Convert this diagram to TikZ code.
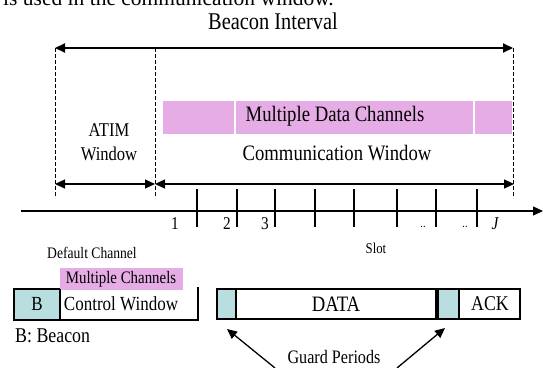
\documentclass[tikz,border=0pt]{standalone}
\usepackage{fontspec}
\setmainfont{Liberation Serif}
\usetikzlibrary{arrows.meta}
\definecolor{pinkband}{RGB}{230,172,230}
\definecolor{guardblue}{RGB}{184,222,224}
\newcommand{\fsz}[1]{\fontsize{#1}{#1}\selectfont}
\begin{document}
\begin{tikzpicture}[x=1pt,y=-1pt,
  txt/.style={inner sep=0pt, xscale=0.85},
  dblarrow/.style={{Triangle[length=10pt,width=9pt]}-{Triangle[length=10pt,width=9pt]}},
  onearrow/.style={-{Triangle[length=10pt,width=9pt]}},
  dashline/.style={dash pattern=on 4pt off 2pt, line width=1pt},
  tickthick/.style={line width=2.2pt},
  tickthin/.style={line width=1.1pt},
  boxline/.style={line width=2.4pt},
]
\useasboundingbox (0,0) rectangle (543,367);

% clipped caption line from the page
\node[inner sep=0pt, anchor=base west] (cap) at (3,5.5) {\fsz{21.5}is used in the communication window.};

% Beacon interval
\node[txt] (bi) at (273,21) {\fsz{24}Beacon Interval};
\coordinate (bil) at (55,48);
\coordinate (bir) at (513,48);
\coordinate (bim) at (155,48);
\draw[dblarrow, line width=2pt] (bil) -- (bir);

% pink band
\fill[pinkband] (163,101) rectangle (512,134);
\draw[white, line width=1.2pt] (235,101) -- (235,134);
\draw[white, line width=1.2pt] (474,101) -- (474,134);
\node[txt] (mdc) at (335,116) {\fsz{22}Multiple Data Channels};
\node[txt] (cw) at (337,153) {\fsz{22}Communication Window};
\node[txt] (atim) at (109,130) {\fsz{19.5}ATIM};
\node[txt] (win) at (109,154) {\fsz{19.5}Window};

% dashed verticals
\coordinate (dl) at (55,198);
\coordinate (dm) at (155,198);
\coordinate (dr) at (513,198);
\draw[dashline] (bil) -- (dl);
\draw[dashline] (bim) -- (dm);
\draw[dashline] (bir) -- (dr);

% window arrows
\coordinate (al) at (55,184);
\coordinate (am) at (155,184);
\coordinate (ar) at (514,184);
\draw[dblarrow, line width=1.3pt] (al) -- (am);
\draw[dblarrow, line width=1.3pt] (am) -- (ar);

% time axis
\coordinate (ax0) at (21,211);
\coordinate (ax1) at (543,211);
\draw[onearrow, line width=1.3pt] (ax0) -- (ax1);
\foreach \x in {197,315,354,397,436,477}
  \draw[tickthick] (\x,189) -- (\x,227);
\foreach \x in {237,275}
  \draw[tickthin] (\x,189) -- (\x,227);
\node[txt] (s1) at (175,224) {\fsz{18}1};
\node[txt] (s2) at (227,224) {\fsz{18}2};
\node[txt] (s3) at (265,224) {\fsz{18}3};
\node[txt] (d1) at (423,227) {\fsz{12}..};
\node[txt] (d2) at (465,227) {\fsz{12}..};
\node[txt] (sj) at (495,224) {\fsz{18}\itshape J};
\node[txt] (slot) at (376,248) {\fsz{15}Slot};

% bottom left: control window
\node[txt] (dc) at (92,253) {\fsz{16}Default Channel};
\fill[pinkband] (60,268) rectangle (183,290);
\node[txt] (mc) at (121,279) {\fsz{17.5}Multiple Channels};
\fill[guardblue] (14,289) rectangle (60,319);
\draw[boxline] (14,289) -- (60,289);
\draw[boxline] (14,288) -- (14,320.2) -- (198,320.2) -- (198,287);
\draw[line width=1.2pt] (60,289) -- (60,319);
\node[txt] (b) at (37,304) {\fsz{20}B};
\node[txt] (ctl) at (121,304) {\fsz{20}Control Window};
\node[txt, anchor=west] (bb) at (15,336) {\fsz{21}B: Beacon};

% bottom right: slot structure
\fill[guardblue] (217,289) rectangle (236,319);
\fill[guardblue] (439,289) rectangle (459,319);
\fill (435,289) rectangle (439,319);
\draw[line width=1.1pt] (236,289) -- (236,319);
\draw[line width=1.1pt] (459,289) -- (459,319);
\draw[boxline] (217,289) rectangle (520,319);
\node[txt] (data) at (336,304) {\fsz{22}DATA};
\node[txt] (ack) at (490,304) {\fsz{21}ACK};

% guard periods
\node[txt] (gp) at (334,357) {\fsz{19}Guard Periods};
\coordinate (gl0) at (275,368);
\coordinate (gl1) at (227,329);
\coordinate (gr0) at (397,368);
\coordinate (gr1) at (445,328);
\draw[onearrow, line width=1.3pt] (gl0) -- (gl1);
\draw[onearrow, line width=1.3pt] (gr0) -- (gr1);
\end{tikzpicture}
\end{document}
